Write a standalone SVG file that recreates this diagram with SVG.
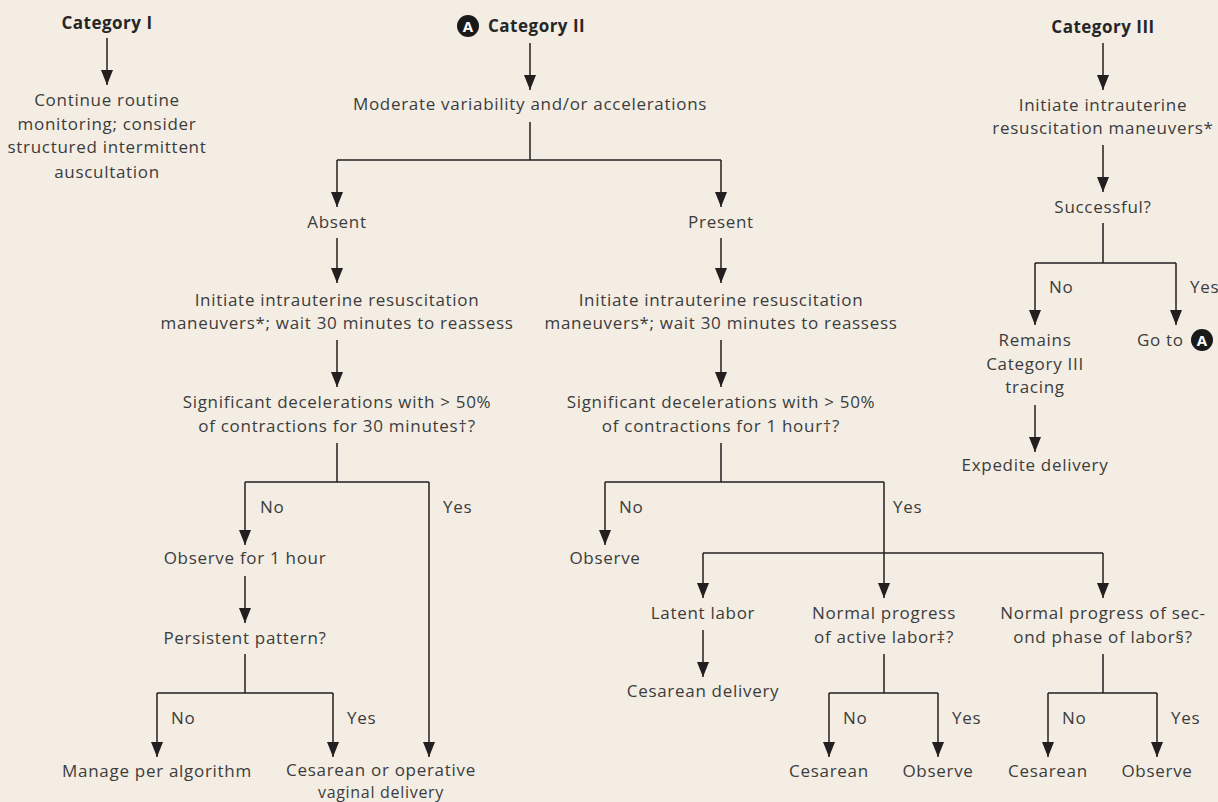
<svg xmlns="http://www.w3.org/2000/svg" width="1218" height="802" viewBox="0 0 1218 802">
<defs>
<style>
.t{font-family:"Open Sans","Noto Sans","Liberation Sans",sans-serif;font-size:17px;fill:#3c3c3c;text-anchor:middle;letter-spacing:0.7px}
.b{font-family:"Open Sans","Noto Sans","Liberation Sans",sans-serif;font-size:17px;font-weight:bold;fill:#262626;text-anchor:middle;letter-spacing:0.5px}
.s{text-anchor:start}
.sm{font-size:16px}
.ln{fill:none;stroke:#231f20;stroke-width:1.5}
.ar{marker-end:url(#arr)}
.badge{fill:#1a1a1a}
.bt{font-family:"Open Sans","Liberation Sans",sans-serif;font-size:15px;font-weight:bold;fill:#ffffff;text-anchor:middle}
</style>
<marker id="arr" viewBox="0 -7 15 14" refX="15" refY="0" markerWidth="15" markerHeight="14" markerUnits="userSpaceOnUse" orient="auto">
<path d="M0,-6 L15,0 L0,6 z" fill="#231f20"/>
</marker>
</defs>
<rect x="0" y="0" width="1218" height="802" fill="#f3ede4"/>

<g id="connectors">
<path class="ln ar" d="M107,38 V85"/>
<path class="ln ar" d="M530,43 V90"/>
<path class="ln" d="M530,122 V160 M337,160 H721"/>
<path class="ln ar" d="M337,160 V207"/>
<path class="ln ar" d="M721,160 V207"/>
<path class="ln ar" d="M337,238 V283"/>
<path class="ln ar" d="M721,238 V283"/>
<path class="ln ar" d="M337,340 V387"/>
<path class="ln ar" d="M721,340 V387"/>
<path class="ln" d="M337,443 V482 M245,482 H429"/>
<path class="ln ar" d="M245,482 V545"/>
<path class="ln ar" d="M429,482 V757"/>
<path class="ln ar" d="M245,576 V623"/>
<path class="ln" d="M245,654 V693 M157,693 H333"/>
<path class="ln ar" d="M157,693 V757"/>
<path class="ln ar" d="M333,693 V757"/>
<path class="ln" d="M721,443 V482 M605,482 H884"/>
<path class="ln ar" d="M605,482 V545"/>
<path class="ln ar" d="M884,482 V598"/>
<path class="ln" d="M703,553 H1103"/>
<path class="ln ar" d="M703,553 V598"/>
<path class="ln ar" d="M1103,553 V598"/>
<path class="ln ar" d="M703,630 V677"/>
<path class="ln" d="M884,654 V693 M829,693 H938"/>
<path class="ln ar" d="M829,693 V757"/>
<path class="ln ar" d="M938,693 V757"/>
<path class="ln" d="M1103,654 V693 M1048,693 H1157"/>
<path class="ln ar" d="M1048,693 V757"/>
<path class="ln ar" d="M1157,693 V757"/>
<path class="ln ar" d="M1103,43 V90"/>
<path class="ln ar" d="M1103,145 V192"/>
<path class="ln" d="M1103,223 V263 M1035,263 H1176"/>
<path class="ln ar" d="M1035,263 V325"/>
<path class="ln ar" d="M1176,263 V325"/>
<path class="ln ar" d="M1035,405 V452"/>
</g>

<g id="labels">
<text class="t s" x="260" y="513">No</text>
<text class="t s" x="443" y="513">Yes</text>
<text class="t s" x="171" y="724">No</text>
<text class="t s" x="347" y="724">Yes</text>
<text class="t s" x="619" y="513">No</text>
<text class="t s" x="893" y="513">Yes</text>
<text class="t s" x="843" y="724">No</text>
<text class="t s" x="952" y="724">Yes</text>
<text class="t s" x="1062" y="724">No</text>
<text class="t s" x="1171" y="724">Yes</text>
<text class="t s" x="1049" y="293">No</text>
<text class="t s" x="1190" y="293">Yes</text>
</g>

<g id="cat1"><text class="b" x="107" y="29">Category I</text></g>
<g id="cat1-action">
<text class="t" x="107" y="106">Continue routine</text>
<text class="t" x="107" y="130">monitoring; consider</text>
<text class="t" x="107" y="153">structured intermittent</text>
<text class="t" x="107" y="178">auscultation</text>
</g>

<g id="cat2">
<circle class="badge" cx="468" cy="26" r="11"/>
<text class="bt" x="468" y="31.5">A</text>
<text class="b s" x="488" y="32">Category II</text>
</g>
<g id="moderate"><text class="t" x="530" y="110">Moderate variability and/or accelerations</text></g>
<g id="absent"><text class="t" x="337" y="228">Absent</text></g>
<g id="present"><text class="t" x="721" y="228">Present</text></g>
<g id="init-absent">
<text class="t" x="337" y="306">Initiate intrauterine resuscitation</text>
<text class="t" x="337" y="329">maneuvers*; wait 30 minutes to reassess</text>
</g>
<g id="init-present">
<text class="t" x="721" y="306">Initiate intrauterine resuscitation</text>
<text class="t" x="721" y="329">maneuvers*; wait 30 minutes to reassess</text>
</g>
<g id="sig-absent">
<text class="t" x="337" y="408">Significant decelerations with &gt; 50%</text>
<text class="t" x="337" y="432">of contractions for 30 minutes†?</text>
</g>
<g id="sig-present">
<text class="t" x="721" y="408">Significant decelerations with &gt; 50%</text>
<text class="t" x="721" y="432">of contractions for 1 hour†?</text>
</g>
<g id="observe-1h"><text class="t" x="245" y="564">Observe for 1 hour</text></g>
<g id="persistent"><text class="t" x="245" y="644">Persistent pattern?</text></g>
<g id="manage"><text class="t" x="157" y="777">Manage per algorithm</text></g>
<g id="cesarean-operative">
<text class="t" x="381" y="776">Cesarean or operative</text>
<text class="t sm" x="381" y="798">vaginal delivery</text>
</g>
<g id="observe-mid"><text class="t" x="605" y="564">Observe</text></g>
<g id="latent"><text class="t" x="703" y="619">Latent labor</text></g>
<g id="cesarean-delivery"><text class="t" x="703" y="697">Cesarean delivery</text></g>
<g id="active">
<text class="t" x="884" y="619">Normal progress</text>
<text class="t" x="884" y="643">of active labor‡?</text>
</g>
<g id="second">
<text class="t" x="1103" y="619">Normal progress of sec-</text>
<text class="t" x="1103" y="643">ond phase of labor§?</text>
</g>
<g id="ces1"><text class="t" x="829" y="777">Cesarean</text></g>
<g id="obs1"><text class="t" x="938" y="777">Observe</text></g>
<g id="ces2"><text class="t" x="1048" y="777">Cesarean</text></g>
<g id="obs2"><text class="t" x="1157" y="777">Observe</text></g>

<g id="cat3"><text class="b" x="1103" y="33">Category III</text></g>
<g id="init-cat3">
<text class="t" x="1103" y="111">Initiate intrauterine</text>
<text class="t" x="1103" y="134">resuscitation maneuvers*</text>
</g>
<g id="successful"><text class="t" x="1103" y="213">Successful?</text></g>
<g id="remains">
<text class="t" x="1035" y="346">Remains</text>
<text class="t" x="1035" y="370">Category III</text>
<text class="t" x="1035" y="393">tracing</text>
</g>
<g id="expedite"><text class="t" x="1035" y="471">Expedite delivery</text></g>
<g id="goto">
<text class="t s" x="1137" y="346">Go to</text>
<circle class="badge" cx="1202" cy="340" r="11"/>
<text class="bt" x="1202" y="345.5">A</text>
</g>
</svg>
